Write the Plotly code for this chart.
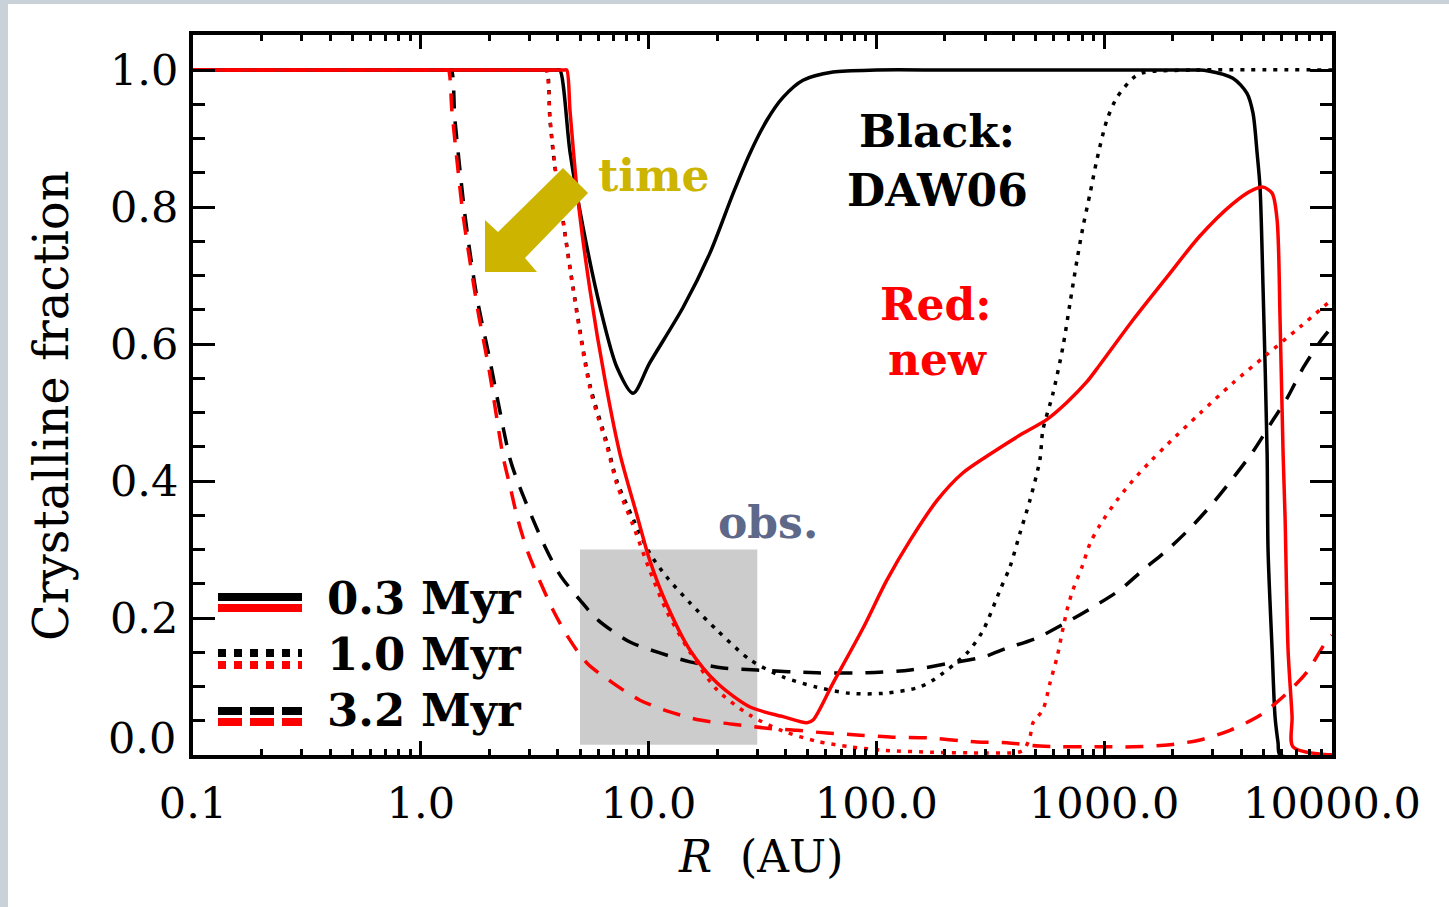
import plotly.graph_objects as go

# ---------------- data ----------------
R_BLK_03 = [0.1, 3.95, 4.08, 4.52, 5.15, 6.12, 7.26, 8.55, 10.1, 14.2, 18.6, 23.5, 27.9, 33.1, 38.9, 47.6, 64.5, 100,
            200, 500, 1000, 2000, 2600, 2826, 3673, 4236, 4500, 4690, 4831, 4980, 5190, 5240, 5460, 5623, 5797, 5916, 10000]
F_BLK_03 = [1.0, 1.0, 1.0, 0.88, 0.771, 0.654, 0.566, 0.528, 0.572, 0.654, 0.733, 0.82, 0.879, 0.927, 0.96, 0.985, 0.997, 1.0,
            1.0, 1.0, 1.0, 1.0, 1.0, 0.999, 0.988, 0.966, 0.937, 0.879, 0.829, 0.683, 0.441, 0.299, 0.153, 0.056, 0.018, 0.0, 0.0]

R_RED_03 = [0.1, 4.25, 4.37, 4.52, 4.90, 5.53, 6.44, 7.48, 8.89, 10.1, 12.0, 15.2, 20.0, 27.9, 38.9, 49.6, 52.7, 64.5,
            87.3, 111, 141, 185, 240, 325, 427, 561, 687, 840, 959, 1337, 1888, 2636, 3673, 4500, 4980, 5460,
            5741, 5916, 6098, 6223, 6415, 6680, 6745, 10000]
F_RED_03 = [1.0, 1.0, 1.0, 0.94, 0.81, 0.679, 0.547, 0.44, 0.35, 0.285, 0.22, 0.153, 0.105, 0.07, 0.056, 0.047, 0.051, 0.105,
            0.185, 0.255, 0.314, 0.372, 0.412, 0.442, 0.467, 0.49, 0.515, 0.545, 0.57, 0.635, 0.698, 0.758, 0.805, 0.825, 0.829, 0.82,
            0.781, 0.635, 0.441, 0.347, 0.153, 0.056, 0.012, 0.0]

R_BLK_10 = [0.1, 3.45, 3.57, 3.69, 3.88, 4.21, 4.66, 5.53, 6.57, 7.26, 8.55, 10.1, 12.0, 15.2, 20.0, 27.9, 38.9, 54.8,
            76.6, 107, 151, 177, 250, 294, 349, 386, 427, 472, 522, 538, 596, 659, 708, 760, 807, 867, 929, 1028,
            1138, 1337, 1479, 2500, 10000]
F_BLK_10 = [1.0, 1.0, 1.0, 0.927, 0.858, 0.781, 0.683, 0.54, 0.455, 0.40, 0.345, 0.295, 0.26, 0.222, 0.182, 0.139, 0.114, 0.099,
            0.09, 0.09, 0.098, 0.109, 0.149, 0.182, 0.241, 0.275, 0.324, 0.372, 0.431, 0.474, 0.528, 0.596, 0.66, 0.723, 0.771, 0.82, 0.869, 0.927,
            0.96, 0.988, 0.996, 1.0, 1.0]

R_RED_10 = [0.1, 3.43, 3.55, 3.69, 3.88, 4.21, 4.66, 5.53, 6.57, 7.26, 8.55, 10.1, 12.0, 15.2, 20.0, 27.9, 38.9, 54.8, 76.6,
            107, 177, 300, 420, 445, 472, 487, 538, 578, 621, 653, 687, 729, 800, 867, 959, 1138, 1337, 1589, 1888,
            2636, 3673, 5190, 7244, 10000]
F_RED_10 = [1.0, 1.0, 1.0, 0.93, 0.86, 0.78, 0.68, 0.535, 0.45, 0.395, 0.335, 0.27, 0.21, 0.15, 0.095, 0.058, 0.035, 0.02, 0.012,
            0.007, 0.004, 0.003, 0.004, 0.008, 0.026, 0.047, 0.066, 0.105, 0.143, 0.178, 0.212, 0.241, 0.275, 0.309, 0.336, 0.372, 0.401, 0.428, 0.453,
            0.499, 0.543, 0.585, 0.625, 0.665]

R_BLK_32 = [0.1, 1.31, 1.36, 1.41, 1.49, 1.56, 1.65, 1.77, 2.0, 2.2, 2.47, 2.72, 3.08, 3.51, 4.08, 5.0, 6.0, 8.28, 11.2,
            15.2, 21.2, 29.9, 54.8, 91, 141, 210, 294, 374, 507, 687, 893, 1172, 1479, 1888, 2382, 3006, 3673,
            4500, 5508, 6353, 7464, 8852, 10000]
F_BLK_32 = [1.0, 1.0, 1.0, 0.93, 0.85, 0.79, 0.73, 0.665, 0.58, 0.51, 0.431, 0.391, 0.347, 0.304, 0.263, 0.226, 0.197, 0.165, 0.149,
            0.136, 0.127, 0.124, 0.12, 0.12, 0.124, 0.134, 0.143, 0.156, 0.171, 0.194, 0.216, 0.241, 0.27, 0.299, 0.331, 0.368, 0.404,
            0.443, 0.489, 0.521, 0.565, 0.603, 0.625]

R_RED_32 = [0.1, 1.28, 1.32, 1.37, 1.45, 1.53, 1.61, 1.70, 1.80, 2.0, 2.30, 2.47, 2.67, 2.96, 3.34, 3.80, 4.43, 5.37, 6.98,
            9.16, 12.4, 16.8, 23.5, 33.1, 44.8, 60.6, 84.7, 118, 167, 277, 374, 522, 959, 1337, 1946, 2636, 3566,
            4831, 6098, 7762, 9311, 10000]
F_RED_32 = [1.0, 1.0, 1.0, 0.94, 0.86, 0.79, 0.74, 0.69, 0.64, 0.56, 0.435, 0.391, 0.343, 0.295, 0.253, 0.212, 0.172, 0.134, 0.105,
            0.08, 0.063, 0.051, 0.045, 0.039, 0.036, 0.032, 0.029, 0.026, 0.025, 0.019, 0.018, 0.013, 0.012, 0.012, 0.015, 0.022, 0.036,
            0.058, 0.085, 0.121, 0.163, 0.175]

OBS_R = [5.0, 30.0]
OBS_F = [0.015, 0.30]

X_TICKS = [0.1, 1, 10, 100, 1000, 10000]
X_TICKTEXT = ["0.1", "1.0", "10.0", "100.0", "1000.0", "10000.0"]
Y_TICKS = [0.0, 0.2, 0.4, 0.6, 0.8, 1.0]
Y_TICKTEXT = ["", "0.2", "0.4", "0.6", "0.8", "1.0"]
LEGEND_LABELS = ["0.3 Myr", "1.0 Myr", "3.2 Myr"]

# ---------------- layout geometry ----------------
W, H = 1449, 907
L, R, T, B = 193, 1332, 35, 755


def px(x):
    return (x - L) / (R - L)


def py(y):
    return (B - y) / (B - T)


RED = "#ff0000"
BLK = "#000000"
GOLD = "#ccb400"
OBS = "#5e6888"
SERIF = "DejaVu Serif"
DOT = "4px,7px"
DASH = "18px,13px"
LW = 3.5

fig = go.Figure()

# observed range box
fig.add_trace(go.Scatter(
    x=[OBS_R[0], OBS_R[1], OBS_R[1], OBS_R[0], OBS_R[0]],
    y=[OBS_F[0], OBS_F[0], OBS_F[1], OBS_F[1], OBS_F[0]],
    mode="lines", fill="toself", fillcolor="#cccccc", line=dict(width=0),
    hoverinfo="skip", showlegend=False, name="obs."))

series = [
    (R_BLK_03, F_BLK_03, BLK, "solid", "DAW06 0.3 Myr"),
    (R_BLK_10, F_BLK_10, BLK, DOT, "DAW06 1.0 Myr"),
    (R_BLK_32, F_BLK_32, BLK, DASH, "DAW06 3.2 Myr"),
    (R_RED_03, F_RED_03, RED, "solid", "new 0.3 Myr"),
    (R_RED_10, F_RED_10, RED, DOT, "new 1.0 Myr"),
    (R_RED_32, F_RED_32, RED, DASH, "new 3.2 Myr"),
]
for xs, ys, col, dash, name in series:
    fig.add_trace(go.Scatter(x=xs, y=ys, mode="lines", name=name, showlegend=False,
                             line=dict(color=col, width=LW, dash=dash, shape="spline", smoothing=0.8)))

shapes = []
# light frame strips of the original picture
FRAME = "#c8d2d8"
shapes.append(dict(type="rect", xref="paper", yref="paper", x0=px(0), x1=px(8), y0=py(H), y1=py(0),
                   fillcolor=FRAME, line=dict(width=0), layer="below"))
shapes.append(dict(type="rect", xref="paper", yref="paper", x0=px(0), x1=px(W), y0=py(4), y1=py(0),
                   fillcolor=FRAME, line=dict(width=0), layer="below"))

# "time" arrow
arrow_px = [(485, 272), (485, 220), (498, 232), (563, 168), (588, 193), (525, 258), (537, 272)]
path = "M " + " L ".join(f"{px(a):.5f},{py(b):.5f}" for a, b in arrow_px) + " Z"
shapes.append(dict(type="path", xref="paper", yref="paper", path=path, fillcolor=GOLD,
                   line=dict(width=0)))

# legend samples
leg_rows = [(597, 608, "solid"), (653, 665, "8px,8px"), (711, 722, "24px,8px")]
for yb, yr, dash in leg_rows:
    for yy, col in ((yb, BLK), (yr, RED)):
        shapes.append(dict(type="line", xref="paper", yref="paper", x0=px(218), x1=px(302),
                           y0=py(yy), y1=py(yy), line=dict(color=col, width=8, dash=dash)))

annotations = []


def txt(text, x, y, size=44, color=BLK, xanchor="center", angle=0, bold=True):
    annotations.append(dict(text=f"<b>{text}</b>" if bold else text, xref="paper", yref="paper",
                            x=px(x), y=py(y), xanchor=xanchor, yanchor="middle", showarrow=False,
                            textangle=angle, font=dict(family=SERIF, size=size, color=color)))


txt("time", 654, 176, color=GOLD)
txt("Black:", 937, 132)
txt("DAW06", 937, 190)
txt("Red:", 936, 304, color=RED)
txt("new", 937, 360, color=RED)
txt("obs.", 768, 522, color=OBS)
for lab, yc in zip(LEGEND_LABELS, [598, 654, 710]):
    txt(lab, 325, yc, size=45, xanchor="left")
txt("Crystalline fraction", 51, 406, size=48, angle=-90, bold=False)
txt("<i>R</i>\u00a0\u00a0(AU)", 760, 856, size=44, bold=False)
txt("0.0", 178, 738, size=43, xanchor="right", bold=False)

fig.update_layout(
    width=W, height=H, autosize=False,
    margin=dict(l=L, r=W - R, t=T, b=H - B, pad=0),
    paper_bgcolor="white", plot_bgcolor="white",
    shapes=shapes, annotations=annotations, showlegend=False,
    xaxis=dict(type="log", range=[-1, 4], tickvals=X_TICKS, ticktext=X_TICKTEXT,
               ticks="inside", ticklen=14, tickwidth=3, tickcolor=BLK,
               minor=dict(tickvals=[m * 10 ** e for e in range(-1, 4) for m in range(2, 10)],
                          ticks="inside", ticklen=6, tickwidth=3, tickcolor=BLK),
               showline=True, linecolor=BLK, linewidth=4, mirror="allticks",
               showgrid=False, zeroline=False, ticklabelstandoff=7,
               tickfont=dict(family=SERIF, size=43, color=BLK)),
    yaxis=dict(range=[0, (B - T) / 685], tickvals=Y_TICKS, ticktext=Y_TICKTEXT,
               ticks="inside", ticklen=22, tickwidth=3, tickcolor=BLK,
               minor=dict(tickvals=[i * 0.05 for i in range(1, 21) if i % 4 != 0],
                          ticks="inside", ticklen=12, tickwidth=3, tickcolor=BLK),
               showline=True, linecolor=BLK, linewidth=4, mirror="allticks",
               showgrid=False, zeroline=False, ticklabelstandoff=2,
               tickfont=dict(family=SERIF, size=43, color=BLK)),
)

fig.write_html("out.html", config={"displayModeBar": False},
               post_script="document.body.style.margin='0px';")
